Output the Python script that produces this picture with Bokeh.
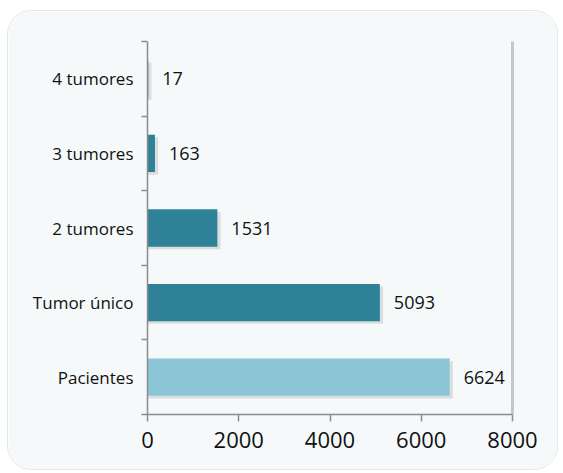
from bokeh.plotting import figure
from bokeh.models import (ColumnDataSource, Range1d, FixedTicker, LinearAxis, LabelSet)
from bokeh.core.properties import value
from bokeh.embed import file_html
from bokeh.resources import INLINE

categories = ["Pacientes", "Tumor único", "2 tumores", "3 tumores", "4 tumores"]
values = [6624, 5093, 1531, 163, 17]
colors = ["#8CC6D6", "#2F8197", "#2F8197", "#2F8197", "#2F8197"]
x_ticks = [0, 2000, 4000, 6000, 8000]

FONT = "Open Sans"
BG = "#F5F9FA"

pos = list(range(len(categories)))
src = ColumnDataSource(dict(
    y=pos,
    v=values,
    c=colors,
    lab=[str(v) for v in values],
    shadow_y=[p_ - 0.035 for p_ in pos],
    shadow_r=[v + 70 for v in values],
))

p = figure(width=551, height=460, output_backend="svg", toolbar_location=None,
           x_range=Range1d(0, 8000), y_range=Range1d(-0.5, len(categories) - 0.5),
           min_border_left=139, min_border_right=47, min_border_top=30, min_border_bottom=57)
p.background_fill_color = BG
p.border_fill_color = BG
p.outline_line_color = None
p.xgrid.visible = False
p.ygrid.visible = False
p.styles = {"border-radius": "24px", "overflow": "hidden", "border": "1px solid #E3E8EA",
            "margin-left": "7px", "margin-top": "10px"}

# bar shadows
p.hbar(y="shadow_y", left=0, right="shadow_r", height=0.5, source=src,
       fill_color="#808080", fill_alpha=0.22, line_color=None)
p.hbar(y="y", left=0, right="v", height=0.5, source=src,
       fill_color="c", line_color=None)

labels = LabelSet(x="v", y="y", text="lab", source=src, x_offset=14,
                  text_baseline="middle", text_align="left",
                  text_font=value(FONT), text_font_size="18px", text_color="#111111")
p.add_layout(labels)

# x axis
xa = p.xaxis[0]
xa.ticker = FixedTicker(ticks=x_ticks)
xa.axis_line_color = "#8C8C8C"
xa.axis_line_width = 1.5
xa.major_tick_line_color = "#8C8C8C"
xa.major_tick_line_width = 1.5
xa.major_tick_in = 0
xa.major_tick_out = 7
xa.minor_tick_line_color = None
xa.major_label_text_font = FONT
xa.major_label_text_font_size = "22px"
xa.major_label_text_color = "#111111"
xa.major_label_standoff = 10

# y axis
ya = p.yaxis[0]
ya.ticker = FixedTicker(ticks=pos, minor_ticks=[i - 0.5 for i in range(len(categories) + 1)])
ya.major_label_overrides = {i: c for i, c in enumerate(categories)}
ya.axis_line_color = "#8C8C8C"
ya.axis_line_width = 1.5
ya.major_tick_line_color = None
ya.minor_tick_line_color = "#8C8C8C"
ya.minor_tick_line_width = 1.5
ya.minor_tick_in = 0
ya.minor_tick_out = 6
ya.major_label_text_font = FONT
ya.major_label_text_font_size = "17px"
ya.major_label_text_color = "#111111"
ya.major_label_standoff = 8

# right edge of plot frame (with shadow feel)
ra = LinearAxis(axis_line_color="#B0B0B0", axis_line_width=3, axis_line_alpha=0.7,
                major_tick_line_color=None, minor_tick_line_color=None,
                major_label_text_font_size="0px")
ra.ticker = FixedTicker(ticks=[])
p.add_layout(ra, "right")

open("out.html", "w").write(file_html(p, INLINE))
